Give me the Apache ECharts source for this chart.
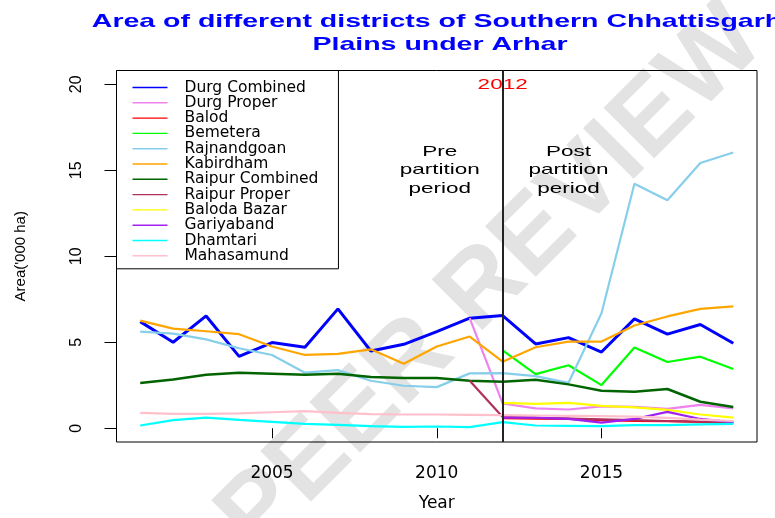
<!DOCTYPE html>
<html>
<head>
<meta charset="utf-8">
<script src="https://cdn.jsdelivr.net/npm/echarts@6/dist/echarts.min.js"></script>
<style>
html,body{margin:0;padding:0;background:#fff;}
#chart{width:775px;height:518px;}
</style>
</head>
<body>
<div id="chart"></div>
<script>
// ---- data ----
const years = [2001,2002,2003,2004,2005,2006,2007,2008,2009,2010,2011,2012,2013,2014,2015,2016,2017,2018,2019];
const durgCombined   = [6.20,5.00,6.53,4.18,4.98,4.71,6.94,4.49,4.88,5.62,6.40,6.55,4.90,5.27,4.43,6.36,5.47,6.03,4.94];
const durgProper     = [null,null,null,null,null,null,null,null,null,null,6.40,1.44,1.15,1.09,1.27,1.24,1.13,1.36,1.15];
const balod          = [null,null,null,null,null,null,null,null,null,null,null,0.58,0.56,0.54,0.47,0.43,0.41,0.37,0.33];
const bemetera       = [null,null,null,null,null,null,null,null,null,null,null,4.53,3.15,3.66,2.51,4.69,3.85,4.16,3.44];
const rajnandgoan    = [5.62,5.50,5.17,4.65,4.26,3.23,3.38,2.76,2.47,2.39,3.19,3.21,3.03,2.64,6.69,14.22,13.26,15.42,16.03];
const kabirdham      = [6.26,5.79,5.64,5.47,4.75,4.26,4.32,4.59,3.75,4.75,5.33,3.87,4.71,5.04,5.04,5.97,6.50,6.94,7.08];
const raipurCombined = [2.63,2.84,3.11,3.23,3.17,3.11,3.17,2.98,2.92,2.92,2.76,2.70,2.82,2.55,2.18,2.12,2.28,1.54,1.24];
const raipurProper   = [null,null,null,null,null,null,null,null,null,null,2.76,0.66,0.60,0.56,0.52,0.47,0.42,0.38,0.35];
const balodaBazar    = [null,null,null,null,null,null,null,null,null,null,null,1.48,1.42,1.48,1.30,1.21,1.07,0.80,0.62];
const gariyaband     = [null,null,null,null,null,null,null,null,null,null,null,0.62,0.62,0.54,0.33,0.54,0.95,0.54,0.35];
const dhamtari       = [0.16,0.47,0.62,0.49,0.37,0.25,0.19,0.12,0.08,0.10,0.06,0.36,0.16,0.14,0.12,0.18,0.18,0.22,0.25];
const mahasamund     = [0.89,0.83,0.83,0.87,0.93,0.99,0.89,0.82,0.80,0.80,0.78,0.76,0.74,0.72,0.70,0.67,0.60,0.50,0.42];

const seriesNames = ['Durg Combined','Durg Proper','Balod','Bemetera','Rajnandgoan','Kabirdham','Raipur Combined','Raipur Proper','Baloda Bazar','Gariyaband','Dhamtari','Mahasamund'];
const seriesValues = [durgCombined,durgProper,balod,bemetera,rajnandgoan,kabirdham,raipurCombined,raipurProper,balodaBazar,gariyaband,dhamtari,mahasamund];
const seriesColors = ['#0000FF','#EE82EE','#FF0000','#00FF00','#87CEEB','#FFA500','#006400','#B03060','#FFFF00','#A020F0','#00FFFF','#FFC0CB'];
const seriesWidths = [3,2.2,2.2,2.2,2.2,2.2,2.5,2.2,2.2,2.2,2.2,2.2];

const xTicks = [2005,2010,2015];
const yTicks = [0,5,10,15,20];
const partitionYear = 2012;
const titleLines = ['Area of different districts of Southern Chhattisgarh','Plains under Arhar'];

// ---- chart ----
const chart = echarts.init(document.getElementById('chart'), null, {renderer:'canvas'});

const series = seriesNames.map((name,i) => {
  const s = {
    name: name,
    type: 'line',
    data: years.map((y,j) => [y, seriesValues[i][j]]),
    symbol: 'none',
    connectNulls: false,
    color: seriesColors[i],
    lineStyle: {width: seriesWidths[i], color: seriesColors[i]},
    animation: false,
    z: 3
  };
  if (i === 0) {
    s.markLine = {
      silent: true,
      symbol: ['none','none'],
      label: {show:false},
      lineStyle: {color:'#222', width:2, type:'solid'},
      data: [{xAxis: partitionYear}],
      animation: false
    };
  }
  return s;
});

const option = {
  backgroundColor: '#ffffff',
  animation: false,
  grid: {
    left: 116.5, right: 18, top: 70.5, bottom: 76,
    show: true, borderColor: '#000', borderWidth: 1, backgroundColor: 'transparent',
    containLabel: false, outerBoundsMode: 'none'
  },
  legend: {
    orient: 'vertical',
    left: 116.5, top: 70.5,
    padding: [9, 20, 5, 16],
    itemGap: -0.7,
    itemWidth: 35, itemHeight: 14,
    icon: 'path://M0,0H35V1.4H0Z',
    borderColor: '#000', borderWidth: 1,
    backgroundColor: '#fff',
    textStyle: {fontFamily:'DejaVu Sans', fontSize: 15.5, color:'#000', lineHeight: 14, padding:[0,0,0,12]},
    data: seriesNames,
    selectedMode: false,
    z: 10
  },
  xAxis: {
    type: 'value',
    min: 2000.28, max: 2019.72,
    name: 'Year', nameLocation: 'middle', nameGap: 53,
    nameTextStyle: {fontFamily:'DejaVu Sans', fontSize: 17, color:'#000'},
    axisLine: {show:false},
    axisTick: {show:true, length:10, customValues: xTicks, lineStyle:{color:'#000', width:1}},
    axisLabel: {show:true, customValues: xTicks, margin: 23, fontFamily:'DejaVu Sans', fontSize: 17, color:'#000', formatter: v => String(v)},
    splitLine: {show:false}
  },
  yAxis: {
    type: 'value',
    min: -0.8, max: 20.8,
    name: "Area('000 ha)", nameLocation: 'middle', nameGap: 88, nameRotate: 90,
    nameTextStyle: {fontFamily:'Liberation Sans', fontSize: 15, color:'#000'},
    axisLine: {show:false},
    axisTick: {show:true, length:12, customValues: yTicks, lineStyle:{color:'#000', width:1}},
    axisLabel: {show:true, customValues: yTicks, rotate: 90, margin: 32, fontFamily:'Liberation Sans', fontSize: 16, color:'#000', formatter: v => String(v)},
    splitLine: {show:false}
  },
  series: series
};
chart.setOption(option);

// annotations placed through the axis scales
const p2012 = chart.convertToPixel({gridIndex:0}, [partitionYear, 20]);
const pPre = chart.convertToPixel({gridIndex:0}, [2010, 15]);
const pPost = chart.convertToPixel({gridIndex:0}, [2014, 15]);

function txt(x, y, text, size, weight, color) {
  return {
    type: 'text', x: x, y: y, scaleX: 1.5, z: 20, silent: true,
    style: {text: text, fontFamily: 'Liberation Sans', fontSize: size, fontWeight: weight, fill: color,
            align: 'center', verticalAlign: 'middle', textAlign: 'center', textVerticalAlign: 'middle'}
  };
}

const pre = txt(pPre[0]+3, pPre[1], 'Pre\npartition\nperiod', 15, 'normal', '#000');
pre.style.lineHeight = 18.5;
const post = txt(pPost[0], pPost[1], 'Post\npartition\nperiod', 15, 'normal', '#000');
post.style.lineHeight = 18.5;

chart.setOption({
  graphic: [
    {
      type: 'text', x: 492, y: 280, rotation: 45*Math.PI/180, z: -1, silent: true,
      style: {text:'PEER REVIEW', fontFamily:'Liberation Sans', fontWeight:'bold', fontSize: 104, fill:'#e3e3e3',
              align:'center', verticalAlign:'middle', textAlign:'center', textVerticalAlign:'middle'}
    },
    txt(437, 22, titleLines[0], 19, 'bold', '#0000FF'),
    txt(440, 45, titleLines[1], 19, 'bold', '#0000FF'),
    txt(p2012[0], p2012[1]+1, String(partitionYear), 15, 'normal', '#FF0000'),
    pre,
    post
  ]
});
</script>
</body>
</html>
